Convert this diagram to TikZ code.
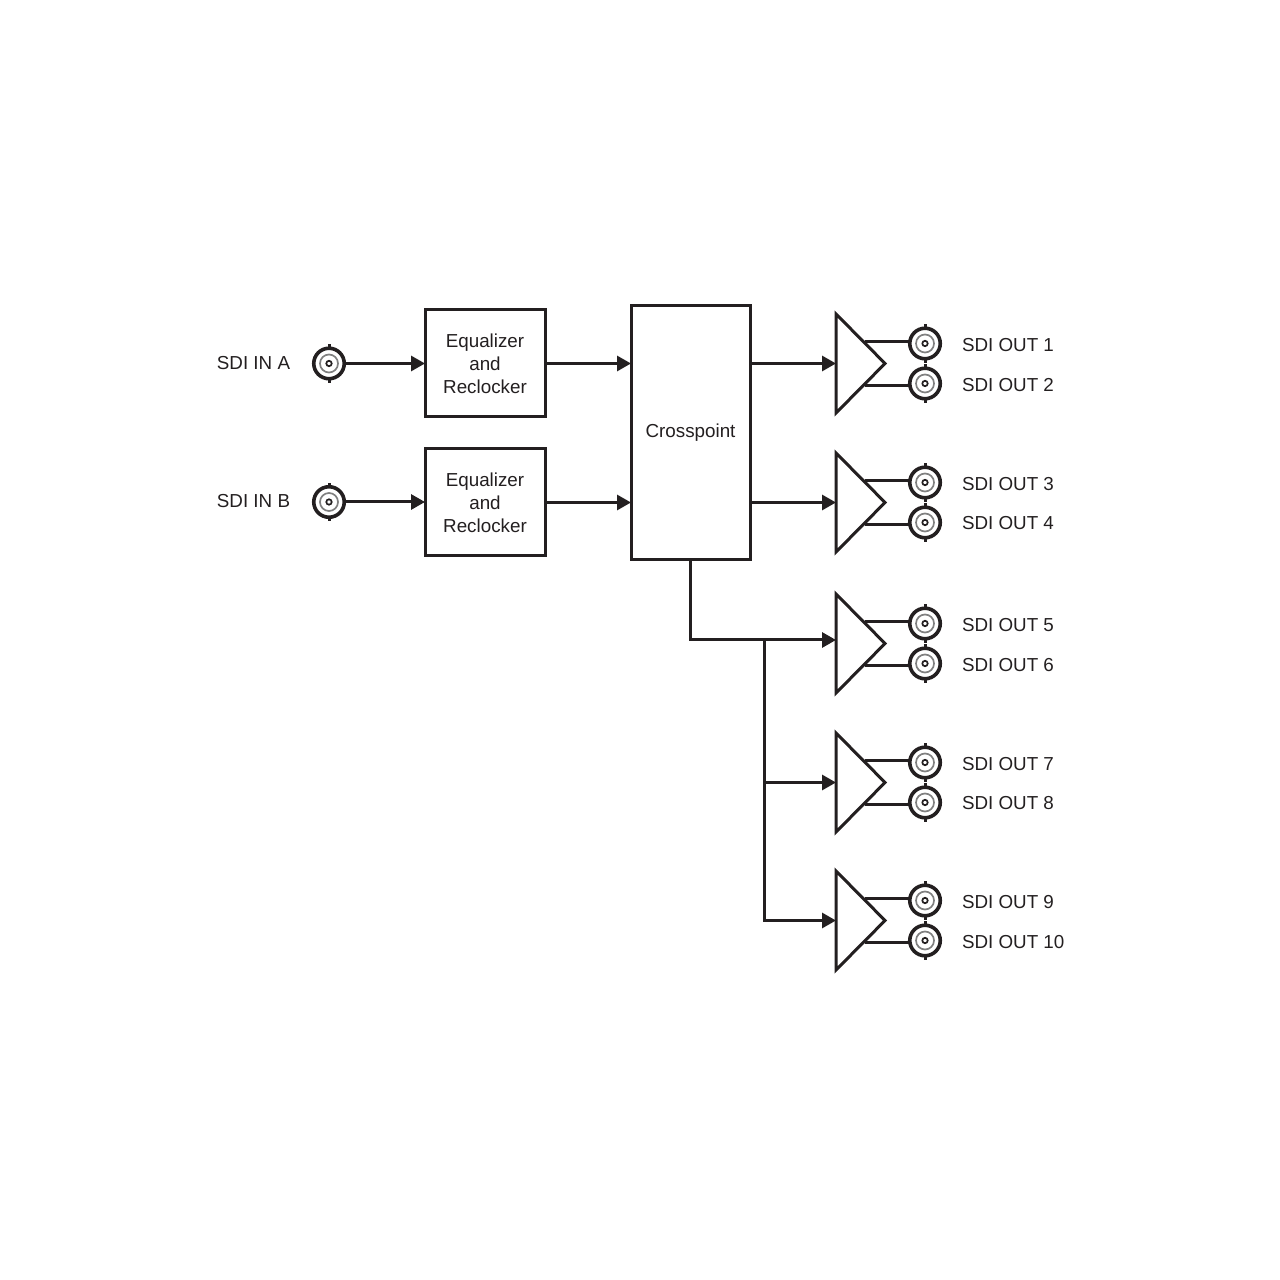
\documentclass[tikz,border=0pt]{standalone}
\usepackage{fontspec}
\setmainfont{Liberation Sans}
\usetikzlibrary{shapes.geometric, arrows.meta, calc}
\definecolor{inkline}{HTML}{231F20}
\tikzstyle{eqbox} = [rectangle, minimum width=1.2cm, minimum height=1.07cm, inner sep=0pt, outer sep=0pt, text centered, align=center, draw=inkline, text=inkline, fill=white, line width=0.03cm, font=\fontsize{5.35}{6.5}\selectfont]
\tikzstyle{xpoint} = [rectangle, minimum width=1.19cm, minimum height=2.54cm, inner sep=0pt, outer sep=0pt, text centered, draw=inkline, text=inkline, fill=white, line width=0.03cm, font=\fontsize{5.35}{6.5}\selectfont]
\tikzstyle{amp} = [isosceles triangle, isosceles triangle stretches, shape border rotate=0, minimum height=0.49cm, minimum width=0.99cm, inner sep=0pt, outer sep=0pt, anchor=lower side, draw=inkline, line width=0.03cm, line join=miter]
\tikzstyle{bnc} = [circle, minimum size=0.305cm, inner sep=0pt, outer sep=0pt, draw=inkline, line width=0.036cm,
  path picture={
    \draw[gray, line width=0.017cm] (path picture bounding box.center) circle (0.09);
    \draw[inkline, line width=0.017cm] (path picture bounding box.center) circle (0.027);
  },
  append after command={
    (\tikzlastnode.north) edge[inkline, line width=0.03cm] ++(0,-0.042)
    (\tikzlastnode.south) edge[inkline, line width=0.03cm] ++(0,0.042)
  }]
\tikzstyle{sdilabel} = [inner sep=0pt, outer sep=0pt, text=inkline, font=\fontsize{5.35}{6.5}\selectfont]
\tikzstyle{arrow} = [draw=inkline, line width=0.03cm, -{Triangle[length=0.14cm, width=0.15cm]}]
\tikzstyle{wire} = [draw=inkline, line width=0.03cm]

\begin{document}
\begin{tikzpicture}[y=-1cm, node distance=0.4cm]
    \useasboundingbox (0,0) rectangle (12.8,12.8);

    % 1. inputs
    \node (ina) [bnc] at (3.29,3.635) {};
    \node (inb) [bnc] at (3.29,5.02) {};
    \node (laba) [sdilabel] at (2.535,3.63) {SDI IN A};
    \node (labb) [sdilabel] at (2.535,5.01) {SDI IN B};

    % 2. equalizer boxes
    \node (eqa) [eqbox] at (4.85,3.635) {Equalizer\\and\\Reclocker};
    \node (eqb) [eqbox] at (4.85,5.025) {Equalizer\\and\\Reclocker};

    % 3. crosspoint
    \node (cross) [xpoint] at (6.905,4.33) {Crosspoint};

    % 4. output amplifiers
    \node (ampa) [amp] at (8.36,3.635) {};
    \node (ampb) [amp] at (8.36,5.025) {};
    \node (ampc) [amp] at (8.36,6.435) {};
    \node (ampd) [amp] at (8.36,7.825) {};
    \node (ampe) [amp] at (8.36,9.205) {};

    % 5. output connectors
    \node (out1) [bnc] at (9.25,3.435) {};
    \node (out2) [bnc, below of=out1] {};
    \node (out3) [bnc] at (9.25,4.825) {};
    \node (out4) [bnc, below of=out3] {};
    \node (out5) [bnc] at (9.25,6.235) {};
    \node (out6) [bnc, below of=out5] {};
    \node (out7) [bnc] at (9.25,7.625) {};
    \node (out8) [bnc, below of=out7] {};
    \node (out9) [bnc] at (9.25,9.005) {};
    \node (out10) [bnc, below of=out9] {};

    % 6. output labels
    \node (lab1) [sdilabel, anchor=west] at (9.62,3.45) {SDI OUT 1};
    \node (lab2) [sdilabel, anchor=west] at (9.62,3.85) {SDI OUT 2};
    \node (lab3) [sdilabel, anchor=west] at (9.62,4.84) {SDI OUT 3};
    \node (lab4) [sdilabel, anchor=west] at (9.62,5.23) {SDI OUT 4};
    \node (lab5) [sdilabel, anchor=west] at (9.62,6.25) {SDI OUT 5};
    \node (lab6) [sdilabel, anchor=west] at (9.62,6.65) {SDI OUT 6};
    \node (lab7) [sdilabel, anchor=west] at (9.62,7.64) {SDI OUT 7};
    \node (lab8) [sdilabel, anchor=west] at (9.62,8.03) {SDI OUT 8};
    \node (lab9) [sdilabel, anchor=west] at (9.62,9.02) {SDI OUT 9};
    \node (lab10) [sdilabel, anchor=west] at (9.62,9.42) {SDI OUT 10};

    % input side arrows
    \draw [arrow] (ina) -- (eqa);
    \draw [arrow] (inb) -- (inb -| eqb.west);
    \draw [arrow] (eqa.east) -- (eqa.east -| cross.west);
    \draw [arrow] (eqb.east) -- (eqb.east -| cross.west);

    % crosspoint to amplifiers
    \draw [arrow] (cross.east |- ampa.lower side) -- (ampa.lower side);
    \draw [arrow] (cross.east |- ampb.lower side) -- (ampb.lower side);
    \coordinate (split) at (7.64,6.40);
    \draw [wire] (cross.south) |- (split);
    \draw [arrow] (split) -- (split -| ampc.lower side);
    \draw [arrow] (split) |- (ampd.lower side);
    \draw [arrow] (split) |- (ampe.lower side);

    % amplifier outputs
    \draw [wire] (out1.172) -- ++(-0.45,0);
    \draw [wire] (out2.188) -- ++(-0.45,0);
    \draw [wire] (out3.172) -- ++(-0.45,0);
    \draw [wire] (out4.188) -- ++(-0.45,0);
    \draw [wire] (out5.172) -- ++(-0.45,0);
    \draw [wire] (out6.188) -- ++(-0.45,0);
    \draw [wire] (out7.172) -- ++(-0.45,0);
    \draw [wire] (out8.188) -- ++(-0.45,0);
    \draw [wire] (out9.172) -- ++(-0.45,0);
    \draw [wire] (out10.188) -- ++(-0.45,0);

\end{tikzpicture}
\end{document}
